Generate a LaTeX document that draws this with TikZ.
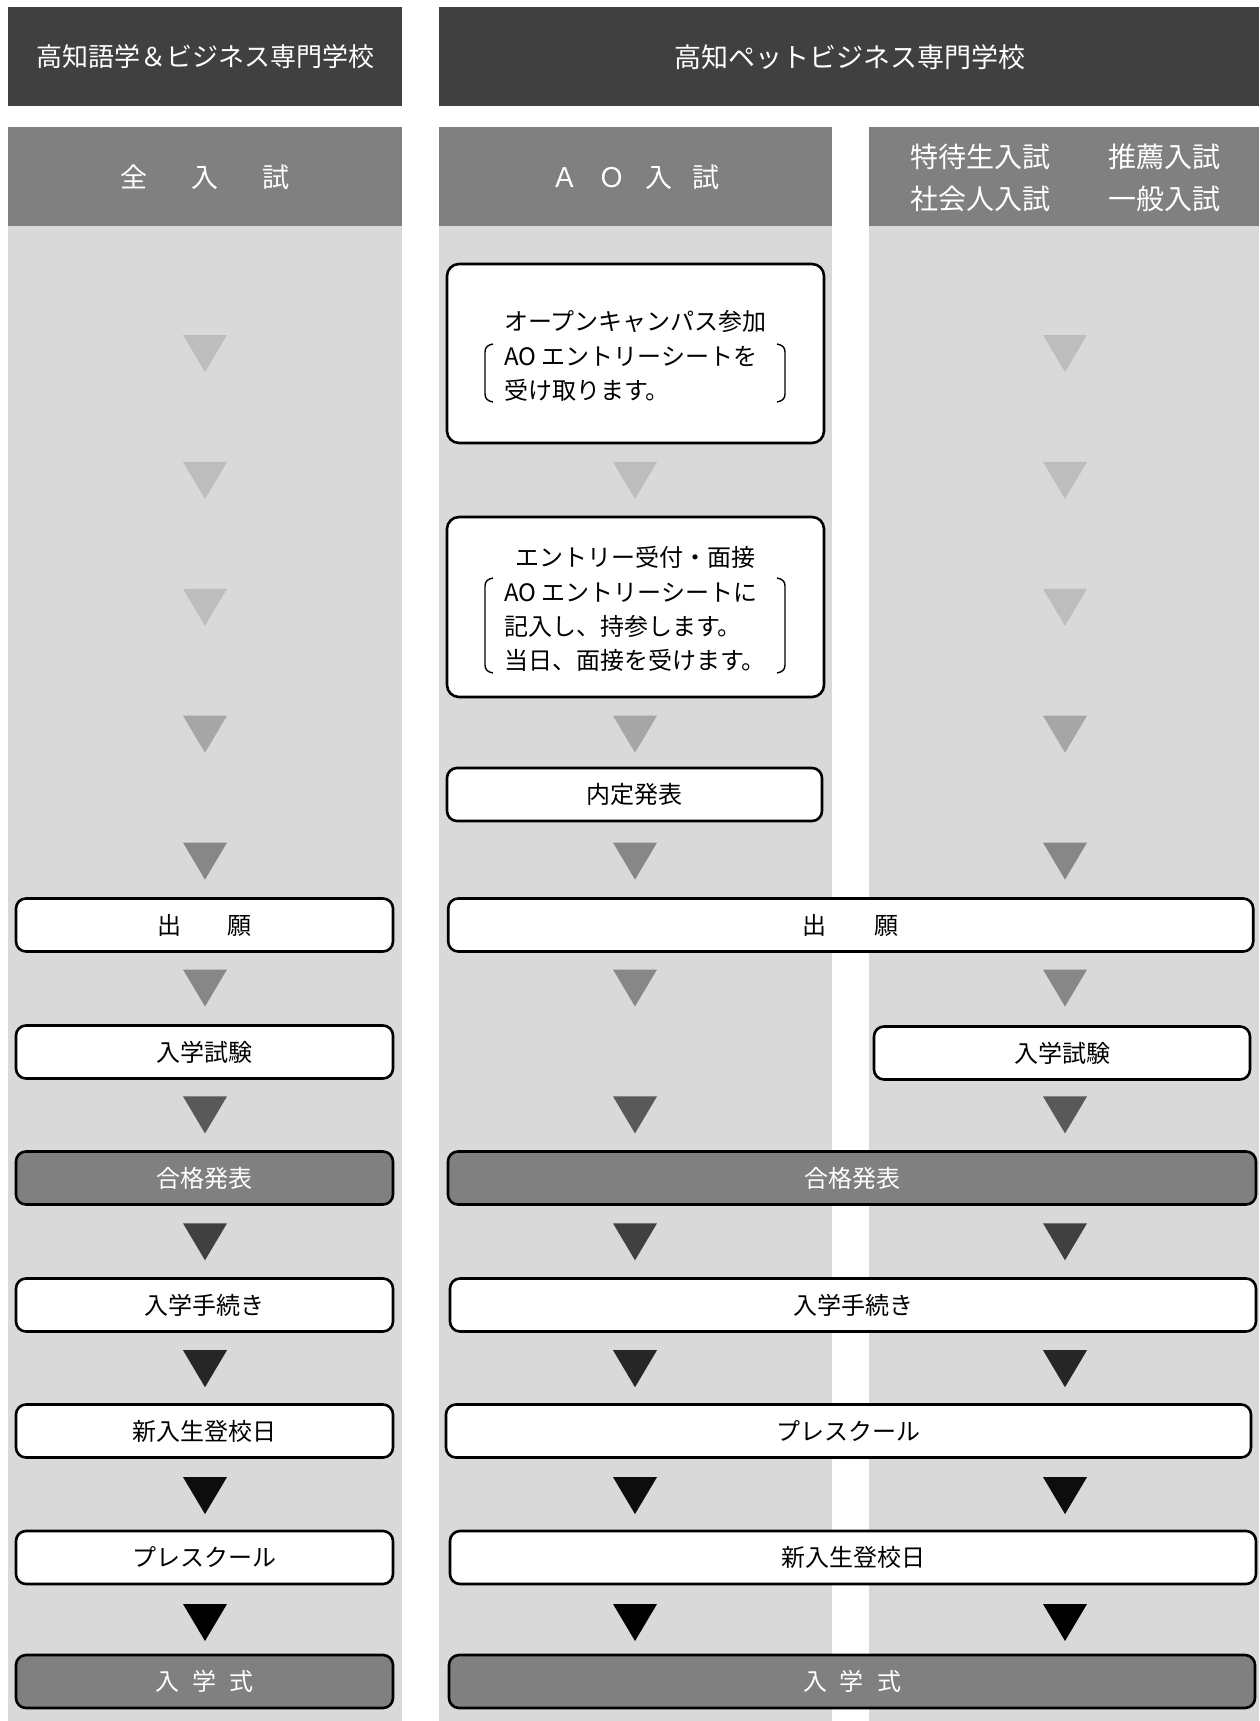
\documentclass[tikz,border=0pt]{standalone}
\usepackage{fontspec}
\setmainfont{Noto Sans CJK JP}
\newcommand\fsz[1]{\fontsize{#1}{#1}\selectfont}
\definecolor{hdrdark}{HTML}{404040}
\definecolor{hdrgrey}{HTML}{808080}
\definecolor{colbg}{HTML}{D9D9D9}
\definecolor{triA}{HTML}{BDBDBD}
\definecolor{triB}{HTML}{A6A6A6}
\definecolor{triC}{HTML}{878787}
\definecolor{triD}{HTML}{595959}
\definecolor{triE}{HTML}{404040}
\definecolor{triF}{HTML}{262626}
\definecolor{triG}{HTML}{0D0D0D}
\definecolor{triH}{HTML}{000000}
\tikzset{
  hdrtext/.style={text=white, inner sep=0pt, font=\fsz{26}},
  subtext/.style={text=white, inner sep=0pt, font=\fsz{27}},
  flowbox/.style={draw=black, line width=2.6pt, rounded corners=10pt, fill=white,
    minimum height=53pt, inner sep=0pt, font=\fsz{24}},
  darkbox/.style={flowbox, fill=hdrgrey, text=white},
  bigbox/.style={draw=black, line width=2.6pt, rounded corners=12pt, fill=white, inner sep=0pt},
  linetext/.style={inner sep=0pt, font=\fsz{24}},
  brk/.style={line width=1.4pt, draw=black},
}
% triangle marker: x, y, colour
\newcommand\tri[3]{\fill[#3] (#1-22,#2-18.5) -- (#1+22,#2-18.5) -- (#1,#2+18.5) -- cycle;}
% left bracket: inner x, top y, bottom y
\newcommand\lbrk[3]{\draw[brk] (#1,#2) .. controls (#1-5,#2+1) and (#1-8,#2+3) .. (#1-8,#2+8) -- (#1-8,#3-8) .. controls (#1-8,#3-3) and (#1-5,#3-1) .. (#1,#3);}
\newcommand\rbrk[3]{\draw[brk] (#1,#2) .. controls (#1+5,#2+1) and (#1+8,#2+3) .. (#1+8,#2+8) -- (#1+8,#3-8) .. controls (#1+8,#3-3) and (#1+5,#3-1) .. (#1,#3);}
\begin{document}
\begin{tikzpicture}[x=1pt,y=-1pt]
\useasboundingbox (0,0) rectangle (1259,1721);
\fill[white] (0,0) rectangle (1259,1721);
% column backgrounds
\fill[colbg] (8,226) rectangle (402,1721);
\fill[colbg] (439,226) rectangle (832,1721);
\fill[colbg] (869,226) rectangle (1259,1721);
% headers
\fill[hdrdark] (8,7) rectangle (402,106);
\fill[hdrdark] (439,7) rectangle (1259,106);
\fill[hdrgrey] (8,127) rectangle (402,226);
\fill[hdrgrey] (439,127) rectangle (832,226);
\fill[hdrgrey] (869,127) rectangle (1259,226);
\node[hdrtext] (h1) at (205,57) {高知語学＆ビジネス専門学校};
\node[hdrtext, font=\fsz{27}] (h2) at (849.5,57) {高知ペットビジネス専門学校};
\node[subtext] (s1) at (205,177) {全\hspace{44pt}入\hspace{44pt}試};
\node[subtext] (s2) at (635.5,177) {Ａ\hspace{20pt}Ｏ\hspace{20pt}入\hspace{20pt}試};
\node[subtext, font=\fsz{28}] (s3a) at (980.5,157) {特待生入試};
\node[subtext, font=\fsz{28}] (s3b) at (980.5,199) {社会人入試};
\node[subtext, font=\fsz{28}] (s3c) at (1164,157) {推薦入試};
\node[subtext, font=\fsz{28}] (s3d) at (1164,199) {一般入試};

% triangles
\foreach \x in {205,1065}{
  \tri{\x}{353.5}{triA} \tri{\x}{480.4}{triA} \tri{\x}{607.3}{triA}
  \tri{\x}{734.2}{triB}
}
\tri{635}{480.4}{triA}
\tri{635}{734.2}{triB}
\foreach \x in {205,635,1065}{
  \tri{\x}{861.1}{triC} \tri{\x}{988}{triC}
  \tri{\x}{1114.9}{triD} \tri{\x}{1241.8}{triE}
  \tri{\x}{1368.7}{triF} \tri{\x}{1495.6}{triG} \tri{\x}{1622.5}{triH}
}

% left column boxes
\node[flowbox, minimum width=377pt] (l1) at (204.5,925) {出\hspace{47pt}願};
\node[flowbox, minimum width=377pt] (l2) at (204.5,1052) {入学試験};
\node[darkbox, minimum width=377pt] (l3) at (204.5,1178) {合格発表};
\node[flowbox, minimum width=377pt] (l4) at (204.5,1305) {入学手続き};
\node[flowbox, minimum width=377pt] (l5) at (204.5,1431) {新入生登校日};
\node[flowbox, minimum width=377pt] (l6) at (204.5,1557.5) {プレスクール};
\node[darkbox, minimum width=377pt] (l7) at (204.5,1681.5) {入\hspace{13pt}学\hspace{13pt}式};

% AO boxes
\node[bigbox, minimum width=377pt, minimum height=179pt] (a1) at (635.5,353.5) {};
\node[linetext, anchor=west] (a1l1) at (504,321.6) {オープンキャンパス参加};
\node[linetext, anchor=west] (a1l2) at (504,356.8) {AO エントリーシートを};
\node[linetext, anchor=west] (a1l3) at (504,390.8) {受け取ります。};
\lbrk{493}{344}{402}
\rbrk{777}{344}{402}

\node[bigbox, minimum width=377pt, minimum height=180pt] (a2) at (635.5,607) {};
\node[linetext] (a2l1) at (635,557.6) {エントリー受付・面接};
\node[linetext, anchor=west] (a2l2) at (504,592.8) {AO エントリーシートに};
\node[linetext, anchor=west] (a2l3) at (504,626.8) {記入し、持参します。};
\node[linetext, anchor=west] (a2l4) at (504,660.8) {当日、面接を受けます。};
\lbrk{493}{578}{673}
\rbrk{777}{578}{673}

\node[flowbox, minimum width=375pt] (a3) at (634.5,794.5) {内定発表};

% shared boxes
\node[flowbox, minimum width=805pt] (m1) at (850.7,925) {出\hspace{48pt}願};
\node[flowbox, minimum width=376pt] (r2) at (1062,1053) {入学試験};
\node[darkbox, minimum width=808pt] (m3) at (852,1178) {合格発表};
\node[flowbox, minimum width=806pt] (m4) at (853,1305) {入学手続き};
\node[flowbox, minimum width=805pt] (m5) at (848.5,1431) {プレスクール};
\node[flowbox, minimum width=806pt] (m6) at (853,1557.5) {新入生登校日};
\node[darkbox, minimum width=806pt] (m7) at (852,1681.5) {入\hspace{13pt}学\hspace{13pt}式};
\end{tikzpicture}
\end{document}
